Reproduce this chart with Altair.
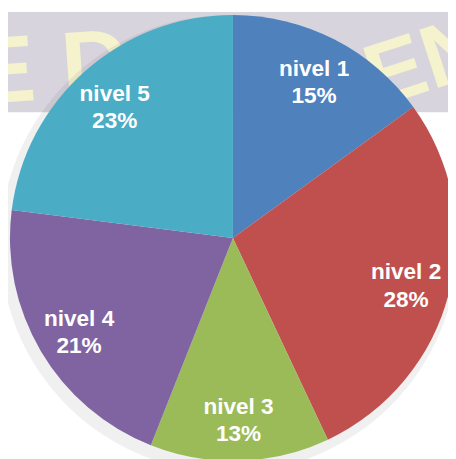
import altair as alt
import pandas as pd

categories = ["nivel 1", "nivel 2", "nivel 3", "nivel 4", "nivel 5"]
values = [15, 28, 13, 21, 23]
colors = ["#4F81BD", "#C0504D", "#9BBB59", "#8064A2", "#4BACC6"]

df = pd.DataFrame({
    "nivel": categories,
    "valor": values,
    "idx": list(range(len(categories))),
})
df["etiqueta"] = [f"{c}\n{v}%" for c, v in zip(categories, values)]

CX, CY, R = 229, 230, 227

band = alt.Chart(pd.DataFrame({"a": [0]})).mark_rect(color="#d8d4de").encode(
    x=alt.value(0), x2=alt.value(448), y=alt.value(0), y2=alt.value(102)
)

wm_left = alt.Chart(pd.DataFrame({"t": ["E D"]})).mark_text(
    font="Liberation Sans", fontWeight="bold", fontSize=96, color="#fdfbc9",
    align="left", baseline="alphabetic", angle=356, opacity=0.8
).encode(text="t:N", x=alt.value(-34), y=alt.value(94))

wm_right = alt.Chart(pd.DataFrame({"t": ["PEN"]})).mark_text(
    font="Liberation Sans", fontWeight="bold", fontSize=90, color="#fdfbc9",
    align="left", baseline="alphabetic", angle=342, opacity=0.8
).encode(text="t:N", x=alt.value(318), y=alt.value(116))

shadow = alt.Chart(pd.DataFrame({"a": [0]})).mark_arc(
    theta=0, theta2=6.2832, outerRadius=R + 6, color="#000000", opacity=0.06
).encode(x=alt.value(CX - 4), y=alt.value(CY + 6))

base = alt.Chart(df).encode(
    theta=alt.Theta("valor:Q", stack=True),
    order=alt.Order("idx:Q"),
)

pie = base.mark_arc(outerRadius=R, stroke=None).encode(
    color=alt.Color("nivel:N", scale=alt.Scale(domain=categories, range=colors), legend=None),
    x=alt.value(CX), y=alt.value(CY),
)

labels = base.mark_text(
    radius=182, font="Liberation Sans", fontWeight="bold", fontSize=23,
    color="white", lineBreak="\n", lineHeight=28, align="center", baseline="middle",
    dy=-10
).encode(text="etiqueta:N", x=alt.value(CX), y=alt.value(CY))

chart = alt.layer(band, wm_left, wm_right, shadow, pie, labels).properties(
    width=448, height=451, padding=0, autosize="none", background="white"
).configure_view(stroke=None)

chart.save("out.html", embed_options={"renderer": "svg", "actions": False})
